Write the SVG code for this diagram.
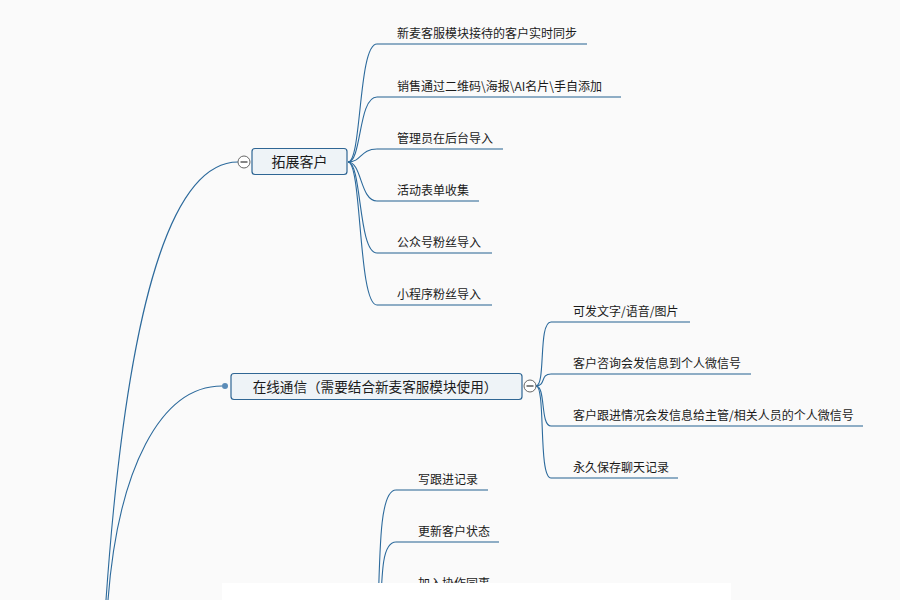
<svg xmlns="http://www.w3.org/2000/svg" width="900" height="600" viewBox="0 0 900 600">
<style>
.bg{fill:#fafafa}
.ln{fill:none;stroke:#2c6a9c;stroke-width:1.1}
.ul{fill:none;stroke:#23608f;stroke-width:1.2}
.box{fill:#eef3f7;stroke:#2f6694;stroke-width:1.2}
.nt{font-family:"Noto Sans CJK SC","Liberation Sans",sans-serif;font-size:14px;fill:#1a1a1a;text-anchor:middle}
.lt{font-family:"Noto Sans CJK SC","Liberation Sans",sans-serif;font-size:12px;fill:#1a1a1a}
.tog{fill:#ffffff;stroke:#666666;stroke-width:1}
.tm{stroke:#333333;stroke-width:1.2}
</style>
<rect class="bg" x="0" y="0" width="900" height="600"/>
<g id="connectors">
  <path class="ln" d="M106,600 C125,330 165,162 238,162"/>
  <path class="ln" d="M108,600 C118,470 160,386 222,386"/>
  <path class="ln" d="M348,162 C362,162 358,44 377,44"/>
  <path class="ln" d="M348,162 C362,162 358,97 377,97"/>
  <path class="ln" d="M348,162 C362,162 360,149 377,149"/>
  <path class="ln" d="M348,162 C362,162 360,201 377,201"/>
  <path class="ln" d="M348,162 C362,162 358,253 377,253"/>
  <path class="ln" d="M348,162 C362,162 358,305 377,305"/>
  <path class="ln" d="M536,386 C546,386 538,322 551,322"/>
  <path class="ln" d="M536,386 C546,386 540,374 551,374"/>
  <path class="ln" d="M536,386 C546,386 540,426 551,426"/>
  <path class="ln" d="M536,386 C546,386 538,478 551,478"/>
  <path class="ln" d="M377,650 C380,560 378,490 396,490"/>
  <path class="ln" d="M379,650 C382,580 380,542 396,542"/>
  <path class="ln" d="M381,650 C383,610 382,594 396,594"/>
</g>
<g id="node-tuozhan">
  <rect class="box" x="252" y="148.5" width="95" height="26" rx="3"/>
  <text class="nt" x="299.5" y="167">拓展客户</text>
  <circle class="tog" cx="244" cy="162" r="6"/>
  <line class="tm" x1="240.5" y1="162" x2="247.5" y2="162"/>
</g>
<g id="node-zaixian">
  <rect class="box" x="231" y="373.5" width="291" height="26" rx="3"/>
  <text class="nt" x="375" y="391.5" style="font-size:13.6px">在线通信（需要结合新麦客服模块使用）</text>
  <circle cx="225" cy="386" r="3" fill="#5b8cb8"/>
  <circle class="tog" cx="530" cy="386" r="6"/>
  <line class="tm" x1="526.5" y1="386" x2="533.5" y2="386"/>
</g>
<g id="leaf-1"><path class="ul" d="M377,44 H587"/><text class="lt" x="397" y="38">新麦客服模块接待的客户实时同步</text></g>
<g id="leaf-2"><path class="ul" d="M377,97 H621"/><text class="lt" x="397" y="91">销售通过二维码\海报\AI名片\手自添加</text></g>
<g id="leaf-3"><path class="ul" d="M377,149 H503"/><text class="lt" x="397" y="143">管理员在后台导入</text></g>
<g id="leaf-4"><path class="ul" d="M377,201 H479"/><text class="lt" x="397" y="195">活动表单收集</text></g>
<g id="leaf-5"><path class="ul" d="M377,253 H492"/><text class="lt" x="397" y="247">公众号粉丝导入</text></g>
<g id="leaf-6"><path class="ul" d="M377,305 H492"/><text class="lt" x="397" y="299">小程序粉丝导入</text></g>
<g id="leaf-7"><path class="ul" d="M551,322 H690"/><text class="lt" x="573" y="316">可发文字/语音/图片</text></g>
<g id="leaf-8"><path class="ul" d="M551,374 H751"/><text class="lt" x="573" y="368">客户咨询会发信息到个人微信号</text></g>
<g id="leaf-9"><path class="ul" d="M551,426 H863"/><text class="lt" x="573" y="420">客户跟进情况会发信息给主管/相关人员的个人微信号</text></g>
<g id="leaf-10"><path class="ul" d="M551,478 H678"/><text class="lt" x="573" y="472">永久保存聊天记录</text></g>
<g id="leaf-11"><path class="ul" d="M396,490 H488"/><text class="lt" x="418" y="484">写跟进记录</text></g>
<g id="leaf-12"><path class="ul" d="M396,542 H499"/><text class="lt" x="418" y="536">更新客户状态</text></g>
<g id="leaf-13"><path class="ul" d="M396,594 H499"/><text class="lt" x="418" y="588">加入协作同事</text></g>
<rect x="222" y="583" width="509" height="17" fill="#ffffff"/>
</svg>
